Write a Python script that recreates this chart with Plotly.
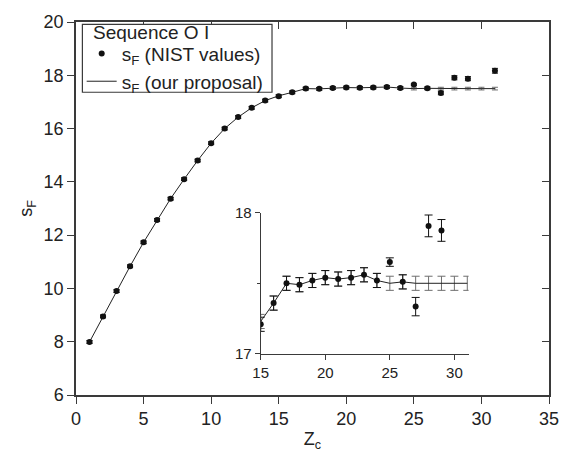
import plotly.graph_objects as go

# Core charge Z_c along the O I isoelectronic sequence
z_c = list(range(1, 32))

# s_F from the proposed fit
s_ours = [7.99, 8.95, 9.90, 10.83, 11.73, 12.57, 13.37, 14.10, 14.80, 15.45,
          16.00, 16.43, 16.78, 17.05, 17.23, 17.36, 17.50, 17.49, 17.52, 17.54,
          17.53, 17.54, 17.56, 17.52, 17.50, 17.51, 17.50, 17.50, 17.50, 17.50,
          17.50]
err_ours = [0.05] * 31

# s_F derived from NIST values (no value for Z_c = 30)
s_nist = [7.99, 8.95, 9.90, 10.83, 11.73, 12.57, 13.37, 14.10, 14.80, 15.45,
          16.00, 16.43, 16.78, 17.05, 17.21, 17.36, 17.50, 17.49, 17.52, 17.54,
          17.53, 17.54, 17.56, 17.52, 17.65, 17.51, 17.335, 17.906, 17.874, None,
          18.17]
err_nist = [0.05, 0.05, 0.05, 0.05, 0.05, 0.05, 0.05, 0.05, 0.05, 0.05,
            0.05, 0.05, 0.05, 0.05, 0.05, 0.05, 0.05, 0.05, 0.05, 0.05,
            0.05, 0.05, 0.05, 0.05, 0.03, 0.05, 0.065, 0.077, 0.077, 0.0,
            0.09]

main_xticks = [0, 5, 10, 15, 20, 25, 30, 35]
main_yticks = [6, 8, 10, 12, 14, 16, 18, 20]
inset_xticks = [15, 20, 25, 30]
inset_yticks = [17, 18]

legend_heading = "Sequence O I"

FONT = "Liberation Sans, Arial, sans-serif"
INK = "#222222"
AXIS = "#3a3a3a"

fig = go.Figure()

for xa, ya, cap, show in (("x", "y", 3, True), ("x2", "y2", 4, False)):
    fig.add_trace(go.Scatter(
        x=z_c, y=s_ours, mode="lines", xaxis=xa, yaxis=ya,
        name="s<sub>F</sub> (our proposal)", showlegend=show,
        line=dict(color=INK, width=1),
        error_y=dict(type="data", array=err_ours, color="#6e6e6e",
                     thickness=1, width=cap),
    ))
    fig.add_trace(go.Scatter(
        x=z_c, y=s_nist, mode="markers", xaxis=xa, yaxis=ya,
        name="s<sub>F</sub> (NIST values)", showlegend=show,
        marker=dict(color="#111111", size=6, symbol="circle"),
        error_y=dict(type="data", array=err_nist, color="#111111",
                     thickness=1, width=cap),
    ))

# empty trace so the frame axes carrying the inward top/right ticks get drawn
fig.add_trace(go.Scatter(x=[], y=[], xaxis="x3", yaxis="y3",
                         showlegend=False, hoverinfo="skip"))

axis_common = dict(showgrid=False, zeroline=False, showline=True,
                   linecolor=AXIS, ticks="outside", tickcolor=AXIS,
                   tickfont=dict(family=FONT, size=18, color=INK))

fig.update_layout(
    width=571, height=458,
    margin=dict(l=76, r=22, t=17, b=56),
    paper_bgcolor="white", plot_bgcolor="white",
    font=dict(family=FONT, size=19, color=INK),
    showlegend=True,
    legend=dict(
        x=0.012, y=0.966, xanchor="left", yanchor="top",
        bgcolor="rgba(0,0,0,0)", borderwidth=0,
        font=dict(family=FONT, size=19, color=INK),
        traceorder="reversed", tracegroupgap=0, itemwidth=30,
    ),
    # legend frame with an opaque fill that hides the frame ticks behind it
    shapes=[dict(type="rect", xref="paper", yref="paper", layer="above",
                 x0=0.0135, x1=0.4144, y0=0.8116, y1=0.9935,
                 line=dict(color=AXIS, width=1.2), fillcolor="white")],
    annotations=[dict(text=legend_heading, xref="paper", yref="paper",
                      x=0.032, y=0.973, xanchor="left", yanchor="middle",
                      height=19, valign="middle",
                      showarrow=False, font=dict(family=FONT, size=19, color=INK))],
    xaxis=dict(axis_common, range=[0, 35], tickvals=main_xticks,
               linewidth=1.5, ticklen=7, mirror=True,
               title=dict(text="Z<sub>c</sub>", font=dict(family=FONT, size=18, color=INK),
                          standoff=4)),
    yaxis=dict(axis_common, range=[6, 20], tickvals=main_yticks,
               linewidth=1.5, ticklen=7, mirror=True,
               title=dict(text="s<sub>F</sub>", font=dict(family=FONT, size=18, color=INK),
                          standoff=6)),
    # inward ticks along the top and right frame
    xaxis3=dict(overlaying="x", anchor="y3", side="top", range=[0, 35],
                tickvals=main_xticks, ticks="inside", ticklen=7, tickcolor=AXIS,
                showticklabels=False, showgrid=False, zeroline=False, showline=False),
    yaxis3=dict(overlaying="y", anchor="x3", side="right", range=[6, 20],
                tickvals=main_yticks, ticks="inside", ticklen=7, tickcolor=AXIS,
                showticklabels=False, showgrid=False, zeroline=False, showline=False),
    # inset zoom on Z_c = 15..31
    xaxis2=dict(axis_common, domain=[0.3905, 0.830], anchor="y2", range=[15, 31.1],
                tickvals=inset_xticks, linewidth=1.2, ticklen=5,
                tickfont=dict(family=FONT, size=15, color=INK)),
    yaxis2=dict(axis_common, domain=[0.110, 0.489], anchor="x2", range=[17, 18],
                tickvals=inset_yticks, linewidth=1.2, ticklen=5,
                tickfont=dict(family=FONT, size=15, color=INK),
                minor=dict(tickvals=[17.5], ticks="outside", ticklen=3, tickcolor=AXIS)),
)

fig.write_html("out.html")
